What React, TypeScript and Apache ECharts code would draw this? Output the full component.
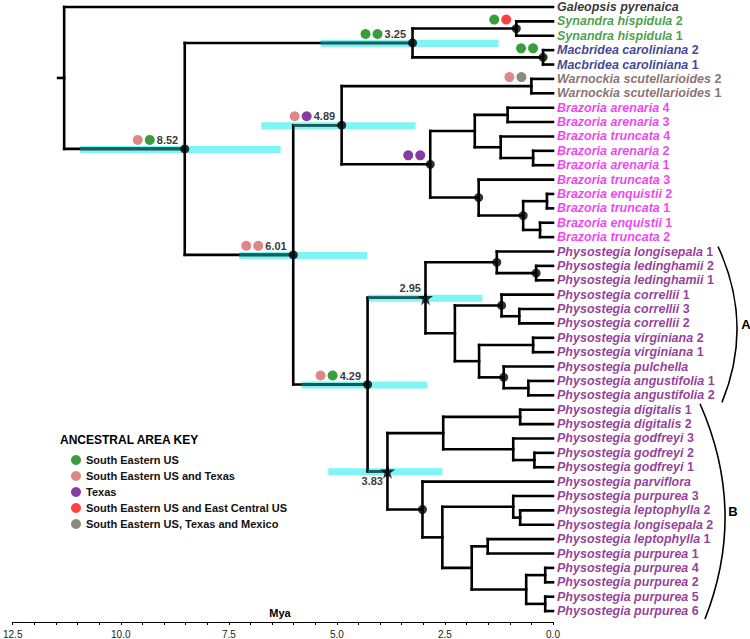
import React, { useEffect, useRef } from "react";
import * as echarts from "echarts";

const FONT = '"Liberation Sans", Arial, Helvetica, sans-serif';

// ---------- DATA ----------
const TIP_NAMES = [
  "Galeopsis pyrenaica",
  "Synandra hispidula 2",
  "Synandra hispidula 1",
  "Macbridea caroliniana 2",
  "Macbridea caroliniana 1",
  "Warnockia scutellarioides 2",
  "Warnockia scutellarioides 1",
  "Brazoria arenaria 4",
  "Brazoria arenaria 3",
  "Brazoria truncata 4",
  "Brazoria arenaria 2",
  "Brazoria arenaria 1",
  "Brazoria truncata 3",
  "Brazoria enquistii 2",
  "Brazoria truncata 1",
  "Brazoria enquistii 1",
  "Brazoria truncata 2",
  "Physostegia longisepala 1",
  "Physostegia ledinghamii 2",
  "Physostegia ledinghamii 1",
  "Physostegia correllii 1",
  "Physostegia correllii 3",
  "Physostegia correllii 2",
  "Physostegia virginiana 2",
  "Physostegia virginiana 1",
  "Physostegia pulchella",
  "Physostegia angustifolia 1",
  "Physostegia angustifolia 2",
  "Physostegia digitalis 1",
  "Physostegia digitalis 2",
  "Physostegia godfreyi 3",
  "Physostegia godfreyi 2",
  "Physostegia godfreyi 1",
  "Physostegia parviflora",
  "Physostegia purpurea 3",
  "Physostegia leptophylla 2",
  "Physostegia longisepala 2",
  "Physostegia leptophylla 1",
  "Physostegia purpurea 1",
  "Physostegia purpurea 4",
  "Physostegia purpurea 2",
  "Physostegia purpurea 5",
  "Physostegia purpurea 6",
];

const GENERA = ["Galeopsis", "Synandra", "Macbridea", "Warnockia", "Brazoria", "Physostegia"];
const GENUS_COLORS = ["#000000", "#178a17", "#10107c", "#6a4e4e", "#ee10ee", "#7a0a7e"];

// Tree: leaves are tip indices, internal nodes carry their age (Mya); * = supported node, # = calibration star
const NEWICK =
  "(0,(((1,2)0.85*,(3,4)0.23*)3.25*,(((5,6)0.50,(((7,8)1.05,(9,(10,11)0.46)1.21)1.81,(12,((13,14)0.14,(15,16)0.30)0.69*)1.72*)2.84*)4.89*,(((17,(18,19)0.39*)1.30*,((20,(21,22)0.78)1.19*,((23,24)0.46,(25,(26,27)0.57)1.14*)1.71)2.27)2.95#,(((28,29)0.76,(30,(31,32)0.43)0.92)2.54,(33,((34,(35,36)0.76)0.92,((37,38)1.51,((39,40)0.18,(41,42)0.18)0.62)1.88)2.56)3.02*)3.83#)4.29*)6.01*)8.52*)11.31";
const ROOT_STEM = 0.14;

// 95% HPD intervals
const HPD_NODES = ["8.52", "6.01", "4.89", "3.25", "4.29", "2.95", "3.83"];
const HPD_OLD = [10.94, 7.26, 6.75, 5.38, 5.82, 4.28, 5.2];
const HPD_YOUNG = [6.3, 4.3, 3.18, 1.26, 2.91, 1.63, 2.56];

// Ancestral areas
const AREA_NAMES = [
  "South Eastern US",
  "South Eastern US and Texas",
  "Texas",
  "South Eastern US and East Central US",
  "South Eastern US, Texas and Mexico",
];
const AREA_COLORS = ["#0a830a", "#d46a6a", "#690b87", "#ff1111", "#6c6f5d"];
const AREA_NODES = ["8.52", "3.25", "4.89", "6.01", "4.29", "0.85", "0.23", "0.50", "2.84"];
const AREA_FIRST = [1, 0, 1, 1, 1, 0, 0, 1, 2];
const AREA_SECOND = [0, 0, 2, 1, 0, 3, 0, 4, 2];

const AGE_LABELS_LEFT = ["8.52", "3.25", "4.89", "6.01", "4.29"];
const AGE_LABEL_ABOVE = "2.95";
const AGE_LABEL_BELOW = "3.83";

const CLADE_NAMES = ["A", "B"];
const CLADE_FIRST_TIP = [17, 28];
const CLADE_LAST_TIP = [27, 42];

const X_TICKS = [0, 2.5, 5, 7.5, 10, 12.5];

// ---------- STYLE (pixel offsets) ----------
const BRACKET_GEOM = [
  { top: 165, bottom: 169, bulge: 184, dyTop: -5, dyBottom: 7, letterDx: 9 },
  { top: 147, bottom: 152, bulge: 172, dyTop: -6, dyBottom: 8, letterDx: 8 },
];
const STAR =
  "path://M50,0 L61,35 L98,35 L68,57 L79,91 L50,70 L21,91 L32,57 L2,35 L39,35 Z";
const Y_PAD_BELOW = 0.76; // space between last tip and time axis, in rows
const TIP_FONT = 12.5;

const LAST = TIP_NAMES.length - 1;
// tip index (top = 0) -> y value on a normal (bottom-up) axis
const rowY = (i: number) => LAST - i;

type TNode = {
  tip?: number;
  label: string;
  age: number;
  flag: string;
  children: TNode[];
  y: number;
  yMin: number;
  yMax: number;
  parentAge: number;
};

function parseNewick(s: string): TNode {
  let i = 0;
  function node(): TNode {
    if (s[i] === "(") {
      i++;
      const children = [node()];
      while (s[i] === ",") {
        i++;
        children.push(node());
      }
      i++;
      let lab = "";
      while (i < s.length && /[0-9.]/.test(s[i])) lab += s[i++];
      let flag = "";
      if (s[i] === "*" || s[i] === "#") flag = s[i++];
      return { label: lab, age: parseFloat(lab), flag, children, y: 0, yMin: 0, yMax: 0, parentAge: 0 };
    }
    let num = "";
    while (i < s.length && /[0-9]/.test(s[i])) num += s[i++];
    return { tip: +num, label: "", age: 0, flag: "", children: [], y: 0, yMin: 0, yMax: 0, parentAge: 0 };
  }
  return node();
}

function layout(n: TNode, parentAge: number, out: TNode[]) {
  n.parentAge = parentAge;
  if (n.tip !== undefined) {
    n.y = rowY(n.tip);
    n.yMin = n.y;
    n.yMax = n.y;
  } else {
    n.children.forEach((c) => layout(c, n.age, out));
    const ys = n.children.map((c) => c.y);
    n.yMin = Math.min(...ys);
    n.yMax = Math.max(...ys);
    n.y = ys.reduce((a, b) => a + b, 0) / ys.length;
  }
  out.push(n);
}

function buildOption() {
  const root = parseNewick(NEWICK);
  const nodes: TNode[] = [];
  layout(root, root.age + ROOT_STEM, nodes);
  const byLabel: Record<string, TNode> = {};
  nodes.forEach((n) => {
    if (n.label) byLabel[n.label] = n;
  });

  const branchData = nodes.map((n) => [n.age, n.y, n.parentAge, n.yMin, n.yMax]);
  const hpdData = HPD_NODES.map((k, i) => [HPD_OLD[i], HPD_YOUNG[i], byLabel[k].y]);
  const overlayData = HPD_NODES.map((k, i) => {
    const n = byLabel[k];
    return [Math.min(HPD_OLD[i], n.parentAge), n.age, n.y];
  });

  const labelStyle = {
    fontFamily: FONT,
    fontSize: 11,
    fontWeight: "bold" as const,
    color: "#000",
  };

  const dotData = nodes
    .filter((n) => n.flag)
    .map((n) => {
      const item: any = {
        value: [n.age, n.y],
        symbol: n.flag === "#" ? STAR : "circle",
        symbolSize: n.flag === "#" ? 15 : 9,
      };
      if (AGE_LABELS_LEFT.includes(n.label)) {
        item.label = { show: true, position: "left", distance: 2, offset: [0, -9], formatter: n.label, ...labelStyle };
      } else if (n.label === AGE_LABEL_ABOVE) {
        item.label = { show: true, position: "left", distance: 0, offset: [3, -10], formatter: n.label, ...labelStyle };
      } else if (n.label === AGE_LABEL_BELOW) {
        item.label = { show: true, position: "left", distance: 0, offset: [3, 10], formatter: n.label, ...labelStyle };
      }
      return item;
    });

  const areaSeries = AREA_NAMES.map((name, ai) => {
    const data: any[] = [];
    AREA_NODES.forEach((k, j) => {
      const n = byLabel[k];
      const labeled = AGE_LABELS_LEFT.includes(k);
      const dx = labeled ? [-47, -35] : [-22, -10];
      if (AREA_FIRST[j] === ai) data.push({ value: [n.age, n.y], symbolOffset: [dx[0], -9] });
      if (AREA_SECOND[j] === ai) data.push({ value: [n.age, n.y], symbolOffset: [dx[1], -9] });
    });
    return {
      type: "scatter",
      name,
      data,
      symbol: "circle",
      symbolSize: 10,
      itemStyle: { color: AREA_COLORS[ai] },
      z: 6,
      clip: false,
      silent: true,
    };
  });

  const tipSeries = GENERA.map((g, gi) => ({
    type: "scatter",
    name: g,
    symbolSize: 0,
    clip: false,
    silent: true,
    z: 6,
    data: TIP_NAMES.map((nm, i) => ({ name: nm, value: [0, rowY(i)] })).filter((d) => d.name.startsWith(g + " ")),
    label: {
      show: true,
      position: "right",
      distance: 4,
      fontFamily: FONT,
      fontSize: TIP_FONT,
      fontWeight: "bold",
      fontStyle: "italic",
      color: GENUS_COLORS[gi],
      formatter: (p: any) => {
        const m = /^(.*?)(?: (\d+))?$/.exec(p.name as string)!;
        return `{sp|${m[1]}}` + (m[2] ? `{nm| ${m[2]}}` : "");
      },
      rich: {
        sp: { fontFamily: FONT, fontSize: TIP_FONT, fontWeight: 900, fontStyle: "italic", color: GENUS_COLORS[gi] },
        nm: { fontFamily: FONT, fontSize: TIP_FONT, fontWeight: 900, fontStyle: "normal", color: GENUS_COLORS[gi] },
      },
    },
  }));

  return {
    animation: false,
    backgroundColor: "#ffffff",
    grid: { left: 7, right: 197, top: 7, bottom: 16 },
    title: [
      {
        text: "ANCESTRAL AREA KEY",
        left: 60,
        top: 434,
        padding: 0,
        textStyle: { fontFamily: FONT, fontSize: 12, fontWeight: "bold", color: "#000" },
      },
      {
        text: "Mya",
        left: 280,
        top: 607,
        textAlign: "center",
        padding: 0,
        textStyle: { fontFamily: FONT, fontSize: 11, fontWeight: "bold", color: "#000" },
      },
    ],
    legend: {
      orient: "vertical",
      left: 71,
      top: 454,
      itemWidth: 10,
      itemHeight: 10,
      itemGap: 4,
      padding: 0,
      icon: "circle",
      selectedMode: false,
      data: AREA_NAMES,
      textStyle: { fontFamily: FONT, fontSize: 11, fontWeight: "bold", color: "#111", lineHeight: 12 },
    },
    xAxis: {
      type: "value",
      inverse: true,
      min: 0,
      max: 12.5,
      interval: 2.5,
      position: "bottom",
      axisLine: { show: true, onZero: false, lineStyle: { color: "#000", width: 1 } },
      axisTick: { show: true, length: 3, lineStyle: { color: "#000" } },
      minorTick: { show: true, splitNumber: 5, length: 3, lineStyle: { color: "#000" } },
      splitLine: { show: false },
      axisLabel: {
        fontFamily: FONT,
        fontSize: 10,
        color: "#222",
        margin: 7,
        formatter: (v: number) => (X_TICKS.includes(v) ? v.toFixed(1) : ""),
      },
    },
    yAxis: { type: "value", min: -Y_PAD_BELOW, max: LAST, show: false },
    series: [
      {
        type: "custom",
        name: "hpd",
        z: 1,
        clip: false,
        silent: true,
        data: hpdData,
        encode: { x: [0, 1], y: 2 },
        renderItem: (_p: any, api: any) => {
          const a = api.coord([api.value(0), api.value(2)]);
          const b = api.coord([api.value(1), api.value(2)]);
          return {
            type: "rect",
            shape: { x: a[0], y: a[1] - 3, width: b[0] - a[0], height: 7 },
            style: { fill: "#80f5f5" },
          };
        },
      },
      {
        type: "custom",
        name: "branches",
        z: 2,
        clip: false,
        silent: true,
        data: branchData,
        encode: { x: [0, 2], y: [1, 3, 4] },
        renderItem: (_p: any, api: any) => {
          const age = api.value(0);
          const y = api.value(1);
          const pa = api.value(2);
          const y0 = api.value(3);
          const y1 = api.value(4);
          const a = api.coord([age, y]);
          const b = api.coord([pa, y]);
          const kids: any[] = [
            {
              type: "line",
              shape: { x1: b[0], y1: b[1], x2: a[0], y2: a[1] },
              style: { stroke: "#000", lineWidth: 2.6, lineCap: "square" },
            },
          ];
          if (y1 > y0) {
            const c = api.coord([age, y0]);
            const d = api.coord([age, y1]);
            kids.push({
              type: "line",
              shape: { x1: c[0], y1: c[1], x2: d[0], y2: d[1] },
              style: { stroke: "#000", lineWidth: 2.6, lineCap: "square" },
            });
          }
          return { type: "group", children: kids };
        },
      },
      {
        type: "custom",
        name: "hpdOverlay",
        z: 3,
        clip: false,
        silent: true,
        data: overlayData,
        encode: { x: [0, 1], y: 2 },
        renderItem: (_p: any, api: any) => {
          const a = api.coord([api.value(0), api.value(2)]);
          const b = api.coord([api.value(1), api.value(2)]);
          return {
            type: "line",
            shape: { x1: a[0], y1: a[1], x2: b[0], y2: b[1] },
            style: { stroke: "#155f5f", lineWidth: 2.6 },
          };
        },
      },
      {
        type: "scatter",
        name: "nodes",
        z: 5,
        clip: false,
        silent: true,
        data: dotData,
        itemStyle: { color: "#000" },
      },
      ...areaSeries,
      ...tipSeries,
      {
        type: "custom",
        name: "clades",
        z: 6,
        clip: false,
        silent: true,
        data: CLADE_NAMES.map((_c, i) => [0, rowY(CLADE_FIRST_TIP[i]), rowY(CLADE_LAST_TIP[i]), i]),
        encode: { x: 0, y: [1, 2] },
        renderItem: (_p: any, api: any) => {
          const i = api.value(3);
          const g = BRACKET_GEOM[i];
          const t = api.coord([0, api.value(1)]);
          const bt = api.coord([0, api.value(2)]);
          const x1 = t[0] + g.top;
          const y1 = t[1] + g.dyTop;
          const x2 = bt[0] + g.bottom;
          const y2 = bt[1] + g.dyBottom;
          const midX = t[0] + g.bulge;
          const midY = (y1 + y2) / 2;
          const cpx = 2 * midX - (x1 + x2) / 2;
          return {
            type: "group",
            children: [
              {
                type: "bezierCurve",
                shape: { x1, y1, x2, y2, cpx1: cpx, cpy1: midY },
                style: { stroke: "#000", lineWidth: 1.6, fill: null },
              },
              {
                type: "text",
                x: midX + g.letterDx,
                y: midY,
                style: {
                  text: CLADE_NAMES[i],
                  fontFamily: FONT,
                  fontSize: 13,
                  fontWeight: "bold",
                  fill: "#000",
                  align: "center",
                  verticalAlign: "middle",
                },
              },
            ],
          };
        },
      },
    ],
  };
}

export default function App() {
  const ref = useRef<HTMLDivElement>(null);
  useEffect(() => {
    const chart = echarts.init(ref.current!, null, { renderer: "svg" });
    chart.setOption(buildOption() as any);
    return () => chart.dispose();
  }, []);
  return (
    <div
      ref={ref}
      style={{ position: "fixed", left: 0, top: 0, width: 750, height: 639, background: "#fff" }}
    />
  );
}
